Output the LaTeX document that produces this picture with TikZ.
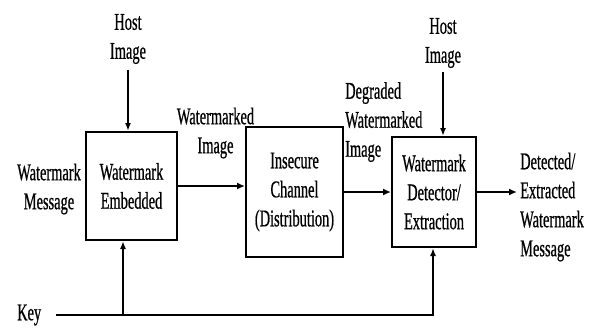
\documentclass[tikz,border=0pt]{standalone}
\usepackage{fontspec}
\setmainfont[FakeStretch=0.6, FakeBold=0.6]{Liberation Serif}
\usetikzlibrary{arrows.meta, positioning, calc}
\newcommand{\wmfont}{\fontsize{24}{29}\selectfont}

\begin{document}
\begin{tikzpicture}[x=1pt, y=-1pt,
    % Blocks and labels
    block/.style={rectangle, draw=black, line width=2pt, inner sep=0pt, align=center, font=\wmfont},
    tag/.style={inner sep=0pt, align=center, font=\wmfont},
    % Arrow styles
    flow/.style={-{Latex[length=8pt, width=7pt]}, line width=2.6pt},
    feed/.style={-{Latex[length=8pt, width=6pt]}, line width=1.6pt},
]
\useasboundingbox (0,0) rectangle (593,329);

% ============================================================================
% BLOCKS
% ============================================================================
\node[block, minimum width=91pt, minimum height=108pt] (embed) at (131.5,186) {Watermark\\Embedded};
\node[block, minimum width=97pt, minimum height=130pt] (channel) at (294.5,192) {Insecure\\Channel\\(Distribution)};
\node[block, minimum width=84pt, minimum height=110pt] (detect) at (434,192) {Watermark\\Detector/\\Extraction};

% ============================================================================
% LABELS
% ============================================================================
\node[tag] (hostA) at (128,39) {Host\\Image};
\node[tag] (hostB) at (443,43) {Host\\Image};
\node[tag, anchor=west] (message) at (17,189) {Watermark\\Message};
\node[tag] (wmimage) at (215.5,133) {Watermarked\\Image};
\node[tag, align=left, anchor=west] (degraded) at (345,122) {Degraded\\Watermarked\\Image};
\node[tag, align=left, anchor=west] (output) at (520,207) {Detected/\\Extracted\\Watermark\\Message};
\node[tag, anchor=west] (key) at (17,315) {Key};

% ============================================================================
% CONNECTORS
% ============================================================================
% Host images into the blocks
\draw[feed] ([yshift=-6pt]hostA.south) -- (hostA.south |- embed.north);
\draw[feed] ([yshift=-4pt]hostB.south) -- (hostB.south |- detect.north);

% Main signal path
\draw[flow] (embed.east) -- (embed.east -| channel.west);
\draw[flow] (channel.east) -- (channel.east -| detect.west);
\draw[flow] (detect.east) -- ([xshift=-3pt]detect.east -| output.west);

% Key line to both ends
\draw[feed] ([xshift=15pt]key.east) -| ([xshift=-1pt]detect.south);
\draw[feed] ([xshift=-8.5pt]embed.south |- key.east) -- ([xshift=-8.5pt]embed.south);

\end{tikzpicture}
\end{document}
